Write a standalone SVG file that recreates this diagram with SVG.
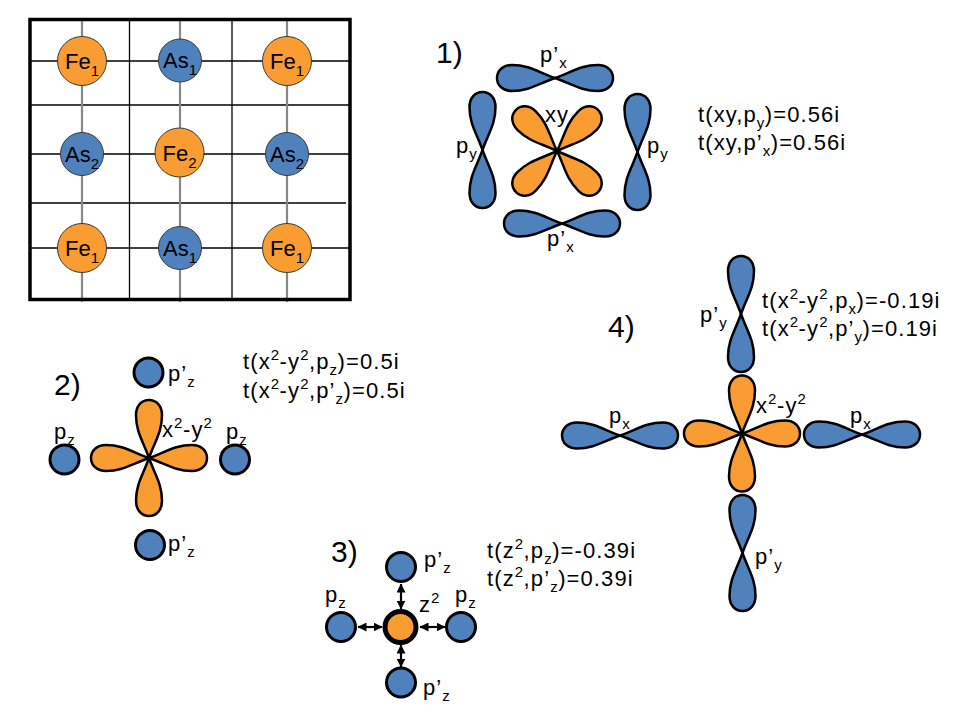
<svg xmlns="http://www.w3.org/2000/svg" xmlns:xlink="http://www.w3.org/1999/xlink" width="960" height="720" viewBox="0 0 960 720">
<style>
  text { font-family: "Liberation Sans", Arial, sans-serif; fill: #000; }
  .t { font-size: 22px; letter-spacing: 1.1px; }
  .num { font-size: 30px; }
  .at { font-size: 22px; }
  .s { font-size: 15px; letter-spacing: 0.5px; }
  .as { font-size: 15px; }
  .blue { fill: #4F81BD; }
  .orange { fill: #F99D33; }
  .latfe { fill: #F99D33; stroke: #3a3a3a; stroke-width: 1; }
  .latas { fill: #4F81BD; stroke: #3a3a3a; stroke-width: 1; }
  .ball { fill: #4F81BD; stroke: #000; stroke-width: 3; }
  .gk { stroke: #000; stroke-width: 1.3; }
  .gg { stroke: #888; stroke-width: 2.2; }
  .arr { stroke: #000; stroke-width: 2.2; fill: none; marker-start: url(#ah); marker-end: url(#ah); }
</style>
<defs>
  <path id="lobe" d="M0,0 C17,-6 26,-13 43,-13 C52,-13 58,-7.5 58,0 C58,7.5 52,13 43,13 C26,13 17,6 0,0 Z" stroke="#000" stroke-width="2.5" stroke-linejoin="round"/>
  <g id="porb">
    <use xlink:href="#lobe"/>
    <use xlink:href="#lobe" transform="rotate(180)"/>
  </g>
  <g id="dorb">
    <use xlink:href="#lobe"/>
    <use xlink:href="#lobe" transform="rotate(90)"/>
    <use xlink:href="#lobe" transform="rotate(180)"/>
    <use xlink:href="#lobe" transform="rotate(270)"/>
  </g>
  <marker id="ah" viewBox="0 0 9 9" refX="8.5" refY="4.5" markerWidth="9" markerHeight="9" markerUnits="userSpaceOnUse" orient="auto-start-reverse">
    <path d="M0,0 L9,4.5 L0,9 Z" fill="#000"/>
  </marker>
</defs>

<g id="lattice">
  <g id="grid">
    <line class="gk" x1="30" y1="61" x2="349" y2="61"/>
    <line class="gk" x1="30" y1="105" x2="349" y2="105"/>
    <line class="gk" x1="30" y1="154" x2="349" y2="154"/>
    <line class="gk" x1="30" y1="203" x2="346" y2="203"/>
    <line class="gk" x1="30" y1="248" x2="349" y2="248"/>
    <line class="gk" x1="129.5" y1="19" x2="129.5" y2="301"/>
    <line class="gk" x1="232" y1="19" x2="232" y2="301"/>
    <line class="gg" x1="82" y1="19" x2="82" y2="302"/>
    <line class="gg" x1="180" y1="19" x2="180" y2="302"/>
    <line class="gg" x1="287" y1="19" x2="287" y2="302"/>
    <rect x="30" y="19.5" width="320" height="280" fill="none" stroke="#000" stroke-width="3.5"/>
  </g>
  <g id="fe1a"><circle class="latfe" cx="82" cy="61" r="24.5"/><text class="at" x="82" y="69" text-anchor="middle">Fe<tspan class="as" dy="7">1</tspan></text></g>
  <g id="as1a"><circle class="latas" cx="180" cy="60.5" r="21.5"/><text class="at" x="180" y="68" text-anchor="middle">As<tspan class="as" dy="7">1</tspan></text></g>
  <g id="fe1b"><circle class="latfe" cx="287" cy="61" r="24.5"/><text class="at" x="287" y="69" text-anchor="middle">Fe<tspan class="as" dy="7">1</tspan></text></g>
  <g id="as2a"><circle class="latas" cx="82" cy="154" r="21.5"/><text class="at" x="82" y="162" text-anchor="middle">As<tspan class="as" dy="7">2</tspan></text></g>
  <g id="fe2"><circle class="latfe" cx="179.5" cy="152.5" r="24.5"/><text class="at" x="179.5" y="160.5" text-anchor="middle">Fe<tspan class="as" dy="7">2</tspan></text></g>
  <g id="as2b"><circle class="latas" cx="287" cy="154" r="21.5"/><text class="at" x="287" y="162" text-anchor="middle">As<tspan class="as" dy="7">2</tspan></text></g>
  <g id="fe1c"><circle class="latfe" cx="82" cy="248" r="24.5"/><text class="at" x="82" y="256" text-anchor="middle">Fe<tspan class="as" dy="7">1</tspan></text></g>
  <g id="as1b"><circle class="latas" cx="180" cy="248" r="21.5"/><text class="at" x="180" y="256" text-anchor="middle">As<tspan class="as" dy="7">1</tspan></text></g>
  <g id="fe1d"><circle class="latfe" cx="287" cy="248" r="24.5"/><text class="at" x="287" y="256" text-anchor="middle">Fe<tspan class="as" dy="7">1</tspan></text></g>
</g>

<g id="panel1">
  <text class="num" x="436" y="63">1)</text>
  <g id="p1-xy"><use xlink:href="#dorb" class="orange" transform="translate(557,151) rotate(45)"/><text class="t" x="545" y="122">xy</text></g>
  <g id="p1-pxtop"><use xlink:href="#porb" class="blue" transform="translate(555,78)"/><text class="t" x="540" y="62">p’<tspan class="s" dy="6">x</tspan></text></g>
  <g id="p1-pxbot"><use xlink:href="#porb" class="blue" transform="translate(562,223.5)"/><text class="t" x="547" y="246">p’<tspan class="s" dy="6">x</tspan></text></g>
  <g id="p1-pyleft"><use xlink:href="#porb" class="blue" transform="translate(482.5,150) rotate(90)"/><text class="t" x="456" y="153">p<tspan class="s" dy="6">y</tspan></text></g>
  <g id="p1-pyright"><use xlink:href="#porb" class="blue" transform="translate(637.5,152) rotate(90)"/><text class="t" x="647" y="153">p<tspan class="s" dy="6">y</tspan></text></g>
  <text class="t" x="698" y="122">t(xy,p<tspan class="s" dy="6">y</tspan><tspan dy="-6">)=0.56i</tspan></text>
  <text class="t" x="698" y="150">t(xy,p’<tspan class="s" dy="6">x</tspan><tspan dy="-6">)=0.56i</tspan></text>
</g>

<g id="panel2">
  <text class="num" x="54" y="395">2)</text>
  <g id="p2-d"><use xlink:href="#dorb" class="orange" transform="translate(149,458)"/><text class="t" x="162" y="437">x<tspan class="s" dy="-9">2</tspan><tspan dy="9">-y</tspan><tspan class="s" dy="-9">2</tspan></text></g>
  <g id="p2-top"><circle class="ball" cx="148.5" cy="372.5" r="14.5"/><text class="t" x="168" y="381">p’<tspan class="s" dy="6">z</tspan></text></g>
  <g id="p2-left"><circle class="ball" cx="64.5" cy="459.5" r="14.5"/><text class="t" x="54" y="439">p<tspan class="s" dy="6">z</tspan></text></g>
  <g id="p2-right"><circle class="ball" cx="235" cy="459.5" r="14.5"/><text class="t" x="226" y="439">p<tspan class="s" dy="6">z</tspan></text></g>
  <g id="p2-bot"><circle class="ball" cx="150" cy="545" r="14.5"/><text class="t" x="168" y="551">p’<tspan class="s" dy="6">z</tspan></text></g>
  <text class="t" x="243" y="369">t(x<tspan class="s" dy="-9">2</tspan><tspan dy="9">-y</tspan><tspan class="s" dy="-9">2</tspan><tspan dy="9">,p</tspan><tspan class="s" dy="6">z</tspan><tspan dy="-6">)=0.5i</tspan></text>
  <text class="t" x="243" y="398">t(x<tspan class="s" dy="-9">2</tspan><tspan dy="9">-y</tspan><tspan class="s" dy="-9">2</tspan><tspan dy="9">,p’</tspan><tspan class="s" dy="6">z</tspan><tspan dy="-6">)=0.5i</tspan></text>
</g>

<g id="panel3">
  <text class="num" x="331" y="562">3)</text>
  <g id="p3-z2"><circle cx="400.5" cy="627" r="15.5" fill="#F99D33" stroke="#000" stroke-width="5"/><text class="t" x="419" y="612">z<tspan class="s" dy="-9">2</tspan></text></g>
  <g id="p3-top"><circle class="ball" cx="401" cy="567" r="14.5"/><text class="t" x="424" y="567">p’<tspan class="s" dy="6">z</tspan></text></g>
  <g id="p3-left"><circle class="ball" cx="341" cy="627" r="14.5"/><text class="t" x="325" y="602">p<tspan class="s" dy="6">z</tspan></text></g>
  <g id="p3-right"><circle class="ball" cx="461" cy="627" r="14.5"/><text class="t" x="455" y="602">p<tspan class="s" dy="6">z</tspan></text></g>
  <g id="p3-bot"><circle class="ball" cx="401" cy="682.5" r="14.5"/><text class="t" x="423" y="695">p’<tspan class="s" dy="6">z</tspan></text></g>
  <text class="t" x="487" y="558">t(z<tspan class="s" dy="-9">2</tspan><tspan dy="9">,p</tspan><tspan class="s" dy="6">z</tspan><tspan dy="-6">)=-0.39i</tspan></text>
  <text class="t" x="487" y="586">t(z<tspan class="s" dy="-9">2</tspan><tspan dy="9">,p’</tspan><tspan class="s" dy="6">z</tspan><tspan dy="-6">)=0.39i</tspan></text>
</g>

<g id="connectors">
  <line class="arr" x1="358" y1="627" x2="382" y2="627"/>
  <line class="arr" x1="420" y1="627" x2="445" y2="627"/>
  <line class="arr" x1="401" y1="584" x2="401" y2="609"/>
  <line class="arr" x1="401" y1="645" x2="401" y2="667"/>
</g>

<g id="panel4">
  <text class="num" x="608" y="337">4)</text>
  <g id="p4-d"><use xlink:href="#dorb" class="orange" transform="translate(742,433.5)"/><text class="t" x="756" y="413">x<tspan class="s" dy="-9">2</tspan><tspan dy="9">-y</tspan><tspan class="s" dy="-9">2</tspan></text></g>
  <g id="p4-top"><use xlink:href="#porb" class="blue" transform="translate(741,314) rotate(90)"/><text class="t" x="700" y="322">p’<tspan class="s" dy="6">y</tspan></text></g>
  <g id="p4-bot"><use xlink:href="#porb" class="blue" transform="translate(742.5,553) rotate(90)"/><text class="t" x="755" y="564">p’<tspan class="s" dy="6">y</tspan></text></g>
  <g id="p4-left"><use xlink:href="#porb" class="blue" transform="translate(620,435.5)"/><text class="t" x="609" y="423">p<tspan class="s" dy="6">x</tspan></text></g>
  <g id="p4-right"><use xlink:href="#porb" class="blue" transform="translate(862,434.5)"/><text class="t" x="850" y="423">p<tspan class="s" dy="6">x</tspan></text></g>
  <text class="t" x="762" y="308">t(x<tspan class="s" dy="-9">2</tspan><tspan dy="9">-y</tspan><tspan class="s" dy="-9">2</tspan><tspan dy="9">,p</tspan><tspan class="s" dy="6">x</tspan><tspan dy="-6">)=-0.19i</tspan></text>
  <text class="t" x="762" y="336">t(x<tspan class="s" dy="-9">2</tspan><tspan dy="9">-y</tspan><tspan class="s" dy="-9">2</tspan><tspan dy="9">,p’</tspan><tspan class="s" dy="6">y</tspan><tspan dy="-6">)=0.19i</tspan></text>
</g>
</svg>
